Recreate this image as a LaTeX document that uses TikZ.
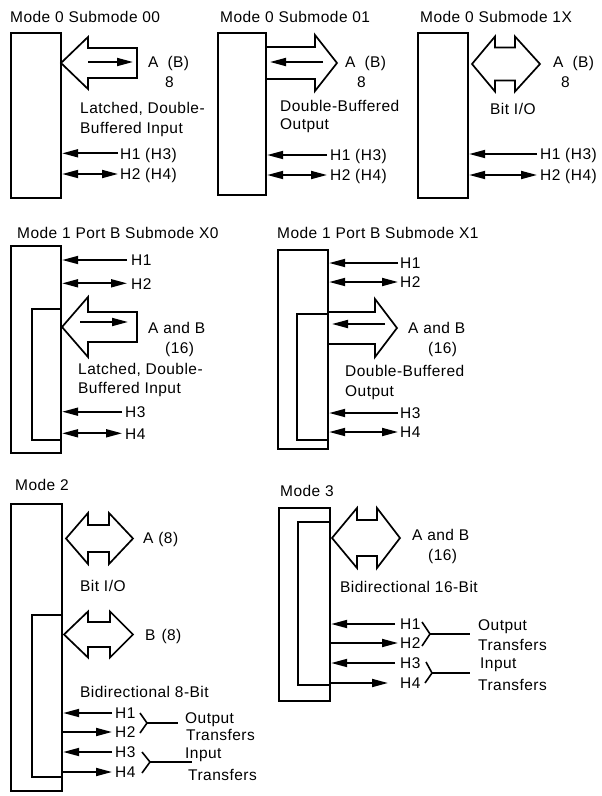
\documentclass[tikz,border=0pt]{standalone}
\usepackage{fontspec}
\setmainfont{Liberation Sans}[LetterSpace=3]
\usetikzlibrary{arrows.meta}
\newcommand\FatLeft[6]{% tipx, cy, basex, endx, headhalf, shafthalf
 \draw[fat] (#1,#2) -- (#3,{#2-#5}) -- (#3,{#2-#6}) -- (#4,{#2-#6}) -- (#4,{#2+#6}) -- (#3,{#2+#6}) -- (#3,{#2+#5}) -- cycle;}
\newcommand\FatRight[6]{% startx, cy, basex, tipx, headhalf, shafthalf
 \draw[fat] (#1,{#2-#6}) -- (#3,{#2-#6}) -- (#3,{#2-#5}) -- (#4,#2) -- (#3,{#2+#5}) -- (#3,{#2+#6}) -- (#1,{#2+#6});}
\newcommand\FatBoth[7]{% lefttip, cy, x1, x2, righttip, headhalf, shafthalf
 \draw[fat] (#1,#2) -- (#3,{#2-#6}) -- (#3,{#2-#7}) -- (#4,{#2-#7}) -- (#4,{#2-#6}) -- (#5,#2) -- (#4,{#2+#6}) -- (#4,{#2+#7}) -- (#3,{#2+#7}) -- (#3,{#2+#6}) -- cycle;}
\tikzset{
 box/.style={draw, line width=2.2pt, inner sep=0pt, anchor=north west},
 inbox/.style={line width=2.2pt, line join=miter},
 sig/.style={line width=1.8pt},
 tipl/.style={sig, -{Triangle[length=16pt 0 0,width=8pt 0 0]}},
 both/.style={sig, {Triangle[length=16pt 0 0,width=8pt 0 0]}-{Triangle[length=16pt 0 0,width=8pt 0 0]}},
 fat/.style={line width=1.7pt, line join=miter},
 brace/.style={line width=1.6pt},
 txt/.style={anchor=base west, inner sep=0pt, font=\fontsize{15.5}{18}\selectfont},
}
\begin{document}
\begin{tikzpicture}[x=1pt,y=-1pt]
\useasboundingbox (0,0) rectangle (602,796);
\fill[white] (0,0) rectangle (602,796);

% ---------- Panel 1: Mode 0 Submode 00
\node[txt] (t1) at (10,22.5) {Mode 0 Submode 00};
\node[box, minimum width=50pt, minimum height=165pt] (b1) at (10,32) {};
\FatLeft{61}{63}{88}{137}{26}{15}
\coordinate (p1a) at (88,62); \coordinate (p1b) at (133,62);
\draw[tipl] (p1a) -- (p1b);
\node[txt] (t1a) at (148,67.5) {A\hspace{9pt}(B)};
\node[txt] (t1b) at (165,87) {8};
\node[txt] (t1c) at (80,113.5) {Latched, Double-};
\node[txt] (t1d) at (80,133) {Buffered Input};
\coordinate (p1h1) at (118,153.3); \coordinate (p1h2) at (118,174);
\draw[tipl] (p1h1) -- (b1.east |- p1h1);
\draw[both] (b1.east |- p1h2) -- (p1h2);
\node[txt] (t1h1) at (120,159) {H1 (H3)};
\node[txt] (t1h2) at (120,179.5) {H2 (H4)};

% ---------- Panel 2: Mode 0 Submode 01
\node[txt] (t2) at (220,22.5) {Mode 0 Submode 01};
\node[box, minimum width=48pt, minimum height=162pt] (b2) at (217,32) {};
\FatRight{265}{63}{315}{337}{28}{16}
\coordinate (p2a) at (323,62); \coordinate (p2b) at (270,62);
\draw[tipl] (p2a) -- (p2b);
\node[txt] (t2a) at (345,67.5) {A\hspace{9pt}(B)};
\node[txt] (t2b) at (357,87) {8};
\node[txt] (t2c) at (280,111) {Double-Buffered};
\node[txt] (t2d) at (280,129) {Output};
\coordinate (p2h1) at (327,155); \coordinate (p2h2) at (327,175);
\draw[tipl] (p2h1) -- (b2.east |- p2h1);
\draw[both] (b2.east |- p2h2) -- (p2h2);
\node[txt] (t2h1) at (330,160.5) {H1 (H3)};
\node[txt] (t2h2) at (330,180.5) {H2 (H4)};

% ---------- Panel 3: Mode 0 Submode 1X
\node[txt] (t3) at (420,22.5) {Mode 0 Submode 1X};
\node[box, minimum width=50pt, minimum height=165pt] (b3) at (417,32) {};
\FatBoth{472}{64}{495}{515}{540}{27.5}{16.5}
\node[txt] (t3a) at (553,67.5) {A\hspace{9pt}(B)};
\node[txt] (t3b) at (561,87) {8};
\node[txt] (t3c) at (490,114) {Bit I/O};
\coordinate (p3h1) at (537,154); \coordinate (p3h2) at (537,175);
\draw[tipl] (p3h1) -- (b3.east |- p3h1);
\draw[both] (b3.east |- p3h2) -- (p3h2);
\node[txt] (t3h1) at (540,159.5) {H1 (H3)};
\node[txt] (t3h2) at (540,180.5) {H2 (H4)};

% ---------- Panel 4: Mode 1 Port B Submode X0
\node[txt] (t4) at (17,238.5) {Mode 1 Port B Submode X0};
\node[box, minimum width=50pt, minimum height=207pt] (b4) at (10,245) {};
\draw[inbox] (60,309) -- (32,309) -- (32,440) -- (60,440);
\coordinate (p4h1) at (127,260); \coordinate (p4h2) at (127,283.3);
\draw[tipl] (p4h1) -- (b4.east |- p4h1);
\draw[both] (b4.east |- p4h2) -- (p4h2);
\node[txt] (t4h1) at (131,265.5) {H1};
\node[txt] (t4h2) at (131,289) {H2};
\FatLeft{62}{327}{88}{137}{30}{15}
\coordinate (p4a) at (80,322); \coordinate (p4b) at (128,322);
\draw[tipl] (p4a) -- (p4b);
\node[txt] (t4a) at (148,333.5) {A and B};
\node[txt] (t4b) at (165,353) {(16)};
\node[txt] (t4c) at (78,374) {Latched, Double-};
\node[txt] (t4d) at (78,393) {Buffered Input};
\coordinate (p4h3) at (122,411.7); \coordinate (p4h4) at (122,433.3);
\draw[tipl] (p4h3) -- (b4.east |- p4h3);
\draw[both] (b4.east |- p4h4) -- (p4h4);
\node[txt] (t4h3) at (125,417) {H3};
\node[txt] (t4h4) at (125,439) {H4};

% ---------- Panel 5: Mode 1 Port B Submode X1
\node[txt] (t5) at (277,238.5) {Mode 1 Port B Submode X1};
\node[box, minimum width=50pt, minimum height=199pt] (b5) at (277,249) {};
\draw[inbox] (327,314) -- (297,314) -- (297,440) -- (327,440);
\coordinate (p5h1) at (398,263); \coordinate (p5h2) at (398,282);
\draw[tipl] (p5h1) -- (b5.east |- p5h1);
\draw[both] (b5.east |- p5h2) -- (p5h2);
\node[txt] (t5h1) at (400,268) {H1};
\node[txt] (t5h2) at (400,287.5) {H2};
\FatRight{327}{328}{375}{397}{29}{16}
\coordinate (p5a) at (385,324); \coordinate (p5b) at (332,324);
\draw[tipl] (p5a) -- (p5b);
\node[txt] (t5a) at (408,333) {A and B};
\node[txt] (t5b) at (428,353) {(16)};
\node[txt] (t5c) at (345,376) {Double-Buffered};
\node[txt] (t5d) at (345,396) {Output};
\coordinate (p5h3) at (398,413); \coordinate (p5h4) at (398,432);
\draw[tipl] (p5h3) -- (b5.east |- p5h3);
\draw[both] (b5.east |- p5h4) -- (p5h4);
\node[txt] (t5h3) at (400,418) {H3};
\node[txt] (t5h4) at (400,437.5) {H4};

% ---------- Panel 6: Mode 2
\node[txt] (t6) at (15,490) {Mode 2};
\node[box, minimum width=51pt, minimum height=287pt] (b6) at (10,503) {};
\draw[inbox] (61,615) -- (32,615) -- (32,777) -- (61,777);
\FatBoth{66}{538.5}{88}{109}{133}{25.5}{13.5}
\node[txt] (t6a) at (143,543.5) {A (8)};
\node[txt] (t6b) at (80,591) {Bit I/O};
\FatBoth{64}{634.5}{88}{110}{133}{23}{12.5}
\node[txt] (t6c) at (145,640) {B\hspace{6pt}(8)};
\node[txt] (t6d) at (80,697) {Bidirectional 8-Bit};
\coordinate (p6h1) at (112,713); \coordinate (p6h2) at (112,732);
\coordinate (p6h3) at (112,752); \coordinate (p6h4) at (112,772);
\draw[tipl] (p6h1) -- (b6.east |- p6h1);
\draw[tipl] (b6.east |- p6h2) -- (p6h2);
\draw[tipl] (p6h3) -- (b6.east |- p6h3);
\draw[tipl] (b6.east |- p6h4) -- (p6h4);
\node[txt] (t6h1) at (115,718.5) {H1};
\node[txt] (t6h2) at (115,737.5) {H2};
\node[txt] (t6h3) at (115,757.5) {H3};
\node[txt] (t6h4) at (115,777.5) {H4};
\coordinate (v6a) at (147,723); \coordinate (v6b) at (150,762);
\draw[brace] (140,713) -- (v6a) -- (140,733);
\draw[brace] (v6a) -- (178,723);
\draw[brace] (142,752) -- (v6b) -- (142,773);
\draw[brace] (v6b) -- (192,762);
\node[txt] (t6e) at (185,723) {Output};
\node[txt] (t6f) at (186,740.5) {Transfers};
\node[txt] (t6g) at (185,758) {Input};
\node[txt] (t6h) at (188,780) {Transfers};

% ---------- Panel 7: Mode 3
\node[txt] (t7) at (280,496) {Mode 3};
\node[box, minimum width=51pt, minimum height=193pt] (b7) at (278,507) {};
\draw[inbox] (329,522) -- (298,522) -- (298,685) -- (329,685);
\FatBoth{332}{538}{357}{377}{400}{30}{18}
\node[txt] (t7a) at (412,540) {A and B};
\node[txt] (t7b) at (428,560) {(16)};
\node[txt] (t7c) at (340,592) {Bidirectional 16-Bit};
\coordinate (p7h1) at (395,624); \coordinate (p7h2) at (398,643);
\coordinate (p7h3) at (395,663); \coordinate (p7h4) at (388,683);
\draw[tipl] (p7h1) -- (b7.east |- p7h1);
\draw[tipl] (b7.east |- p7h2) -- (p7h2);
\draw[tipl] (p7h3) -- (b7.east |- p7h3);
\draw[tipl] (b7.east |- p7h4) -- (p7h4);
\node[txt] (t7h1) at (400,629.5) {H1};
\node[txt] (t7h2) at (400,648.5) {H2};
\node[txt] (t7h3) at (400,668.5) {H3};
\node[txt] (t7h4) at (400,688.5) {H4};
\coordinate (v7a) at (430,634); \coordinate (v7b) at (432,673);
\draw[brace] (422,622) -- (v7a) -- (422,646);
\draw[brace] (v7a) -- (470,634);
\draw[brace] (426,662) -- (v7b) -- (425,683);
\draw[brace] (v7b) -- (470,673);
\node[txt] (t7e) at (478,630) {Output};
\node[txt] (t7f) at (478,650) {Transfers};
\node[txt] (t7g) at (480,668) {Input};
\node[txt] (t7h) at (478,690) {Transfers};
\end{tikzpicture}
\end{document}
